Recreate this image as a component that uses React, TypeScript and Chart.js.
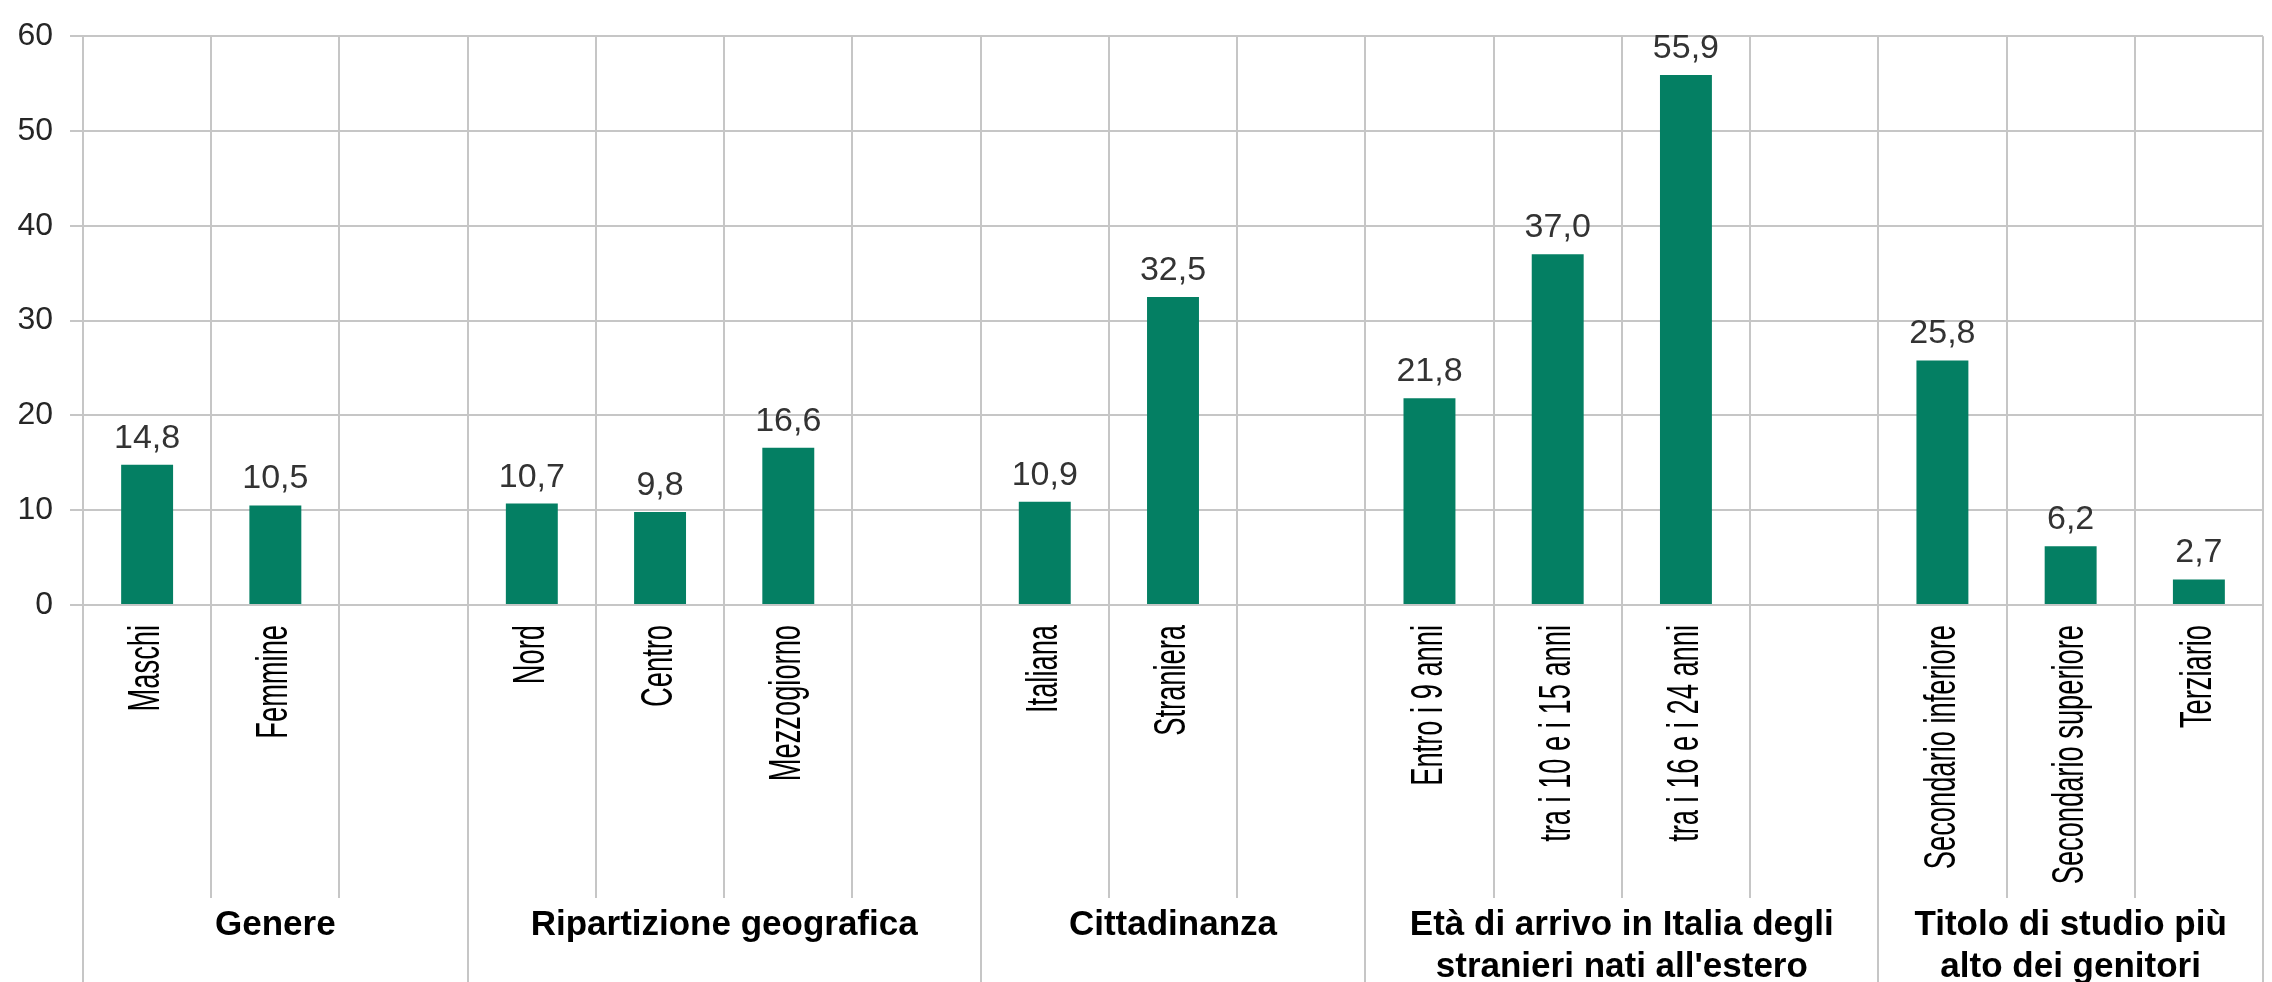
import React, { useEffect, useRef } from 'react';
import { Chart, registerables } from 'chart.js';

Chart.register(...registerables);

// Categories (empty strings are spacer slots between groups)
const categories: string[] = [
  'Maschi', 'Femmine', '',
  'Nord', 'Centro', 'Mezzogiorno', '',
  'Italiana', 'Straniera', '',
  'Entro i 9 anni', 'tra i 10 e i 15 anni', 'tra i 16 e i 24 anni', '',
  'Secondario inferiore', 'Secondario superiore', 'Terziario',
];

const values: (number | null)[] = [
  14.8, 10.5, null,
  10.7, 9.8, 16.6, null,
  10.9, 32.5, null,
  21.8, 37.0, 55.9, null,
  25.8, 6.2, 2.7,
];

const groupNames: string[][] = [
  ['Genere'],
  ['Ripartizione geografica'],
  ['Cittadinanza'],
  ['Età di arrivo in Italia degli', "stranieri nati all'estero"],
  ['Titolo di studio più', 'alto dei genitori'],
];

// Slot index where each group starts (last entry = total slots)
const groupBounds: number[] = [0, 3, 7, 10, 14, 17];

const yMin = 0;
const yMax = 60;
const yStep = 10;

const BAR_COLOR = '#047f63';
const GRID_COLOR = '#c6c6c6';
const FONT = '"Liberation Sans", Arial, sans-serif';
// Category names are set in a tall, tightly condensed face
const LABEL_SQUEEZE = 0.62;

const formatValue = (v: number) => v.toFixed(1).replace('.', ',');

// The group axis works on half-slot steps so that every group centre and
// every group separator falls on a tick.
const halfSlots = groupBounds[groupBounds.length - 1] * 2;
const groupTickLabels: (string | string[])[] = Array.from({ length: halfSlots + 1 }, () => '');
groupNames.forEach((name, i) => {
  groupTickLabels[groupBounds[i] + groupBounds[i + 1]] = name;
});
const separatorTicks = groupBounds.map((b) => b * 2);

const valueLabels = {
  id: 'valueLabels',
  afterDatasetsDraw(chart: any) {
    const ctx = chart.ctx;
    const meta = chart.getDatasetMeta(0);
    ctx.save();
    ctx.font = `34px ${FONT}`;
    ctx.fillStyle = '#333333';
    ctx.textAlign = 'center';
    ctx.textBaseline = 'alphabetic';
    meta.data.forEach((bar: any, i: number) => {
      const v = values[i];
      if (v == null) return;
      ctx.fillText(formatValue(v), bar.x, bar.y - 17);
    });
    ctx.restore();
  },
};

// Draws the rotated category labels at the positions the scale computed,
// compressed along the reading direction.
function drawSqueezedLabels(this: any, chartArea: any) {
  const ctx = this.ctx;
  const items = this.getLabelItems(chartArea);
  for (const item of items) {
    const label = item.label;
    if (!label) continue;
    const o = item.options;
    ctx.save();
    ctx.translate(o.translation[0], o.translation[1]);
    ctx.rotate(o.rotation);
    ctx.scale(LABEL_SQUEEZE, 1);
    ctx.font = item.font.string;
    ctx.fillStyle = o.color;
    ctx.textAlign = o.textAlign;
    ctx.textBaseline = o.textBaseline;
    ctx.fillText(String(label), 0, item.textOffset);
    ctx.restore();
  }
}

export default function App() {
  const canvasRef = useRef<HTMLCanvasElement | null>(null);

  useEffect(() => {
    if (!canvasRef.current) return;
    const chart = new Chart(canvasRef.current, {
      type: 'bar',
      data: {
        labels: categories,
        datasets: [
          {
            data: values,
            backgroundColor: BAR_COLOR,
            borderWidth: 0,
            barPercentage: 0.405,
            categoryPercentage: 1,
          },
        ],
      },
      options: {
        responsive: false,
        animation: false,
        devicePixelRatio: 1,
        layout: { padding: { top: 22, right: 9, left: 0, bottom: 0 } },
        plugins: {
          legend: { display: false },
          tooltip: { enabled: false },
          title: { display: false },
        },
        scales: {
          y: {
            min: yMin,
            max: yMax,
            ticks: {
              stepSize: yStep,
              padding: 17,
              color: '#262626',
              font: { family: FONT, size: 32 },
            },
            grid: { color: GRID_COLOR, lineWidth: 2, tickLength: 13 },
            border: { display: true, color: GRID_COLOR, width: 2 },
            afterFit(scale: any) {
              scale.width = 83;
            },
          },
          x: {
            type: 'category',
            position: 'bottom',
            weight: 0,
            offset: true,
            grid: {
              offset: true,
              color: GRID_COLOR,
              lineWidth: 2,
              tickLength: 293,
            },
            border: { display: true, color: GRID_COLOR, width: 2 },
            ticks: {
              autoSkip: false,
              minRotation: 90,
              maxRotation: 90,
              padding: -273,
              color: '#000000',
              font: { family: FONT, size: 44 },
            },
            afterFit(scale: any) {
              scale.height = 293;
            },
            afterUpdate(scale: any) {
              scale.drawLabels = drawSqueezedLabels;
            },
          },
          g: {
            type: 'category',
            position: 'bottom',
            weight: 1,
            labels: groupTickLabels.map((_, i) => String(i)),
            offset: false,
            grid: {
              offset: false,
              drawOnChartArea: false,
              tickLength: 90,
              lineWidth: 2,
              color: (ctx: any) =>
                separatorTicks.includes(ctx.index) ? GRID_COLOR : 'rgba(0,0,0,0)',
            },
            border: { display: false },
            ticks: {
              autoSkip: false,
              minRotation: 0,
              maxRotation: 0,
              padding: -83,
              color: '#000000',
              font: { family: FONT, size: 35, weight: 'bold', lineHeight: 1.19 },
              callback: (_value: any, index: number) => groupTickLabels[index],
            },
            afterFit(scale: any) {
              scale.height = 84;
            },
          },
        },
      } as any,
      plugins: [valueLabels],
    });
    return () => chart.destroy();
  }, []);

  return (
    <div style={{ position: 'fixed', left: 0, top: 0, width: 2272, height: 982, background: '#ffffff' }}>
      <canvas ref={canvasRef} width={2272} height={982} style={{ display: 'block' }} />
    </div>
  );
}
